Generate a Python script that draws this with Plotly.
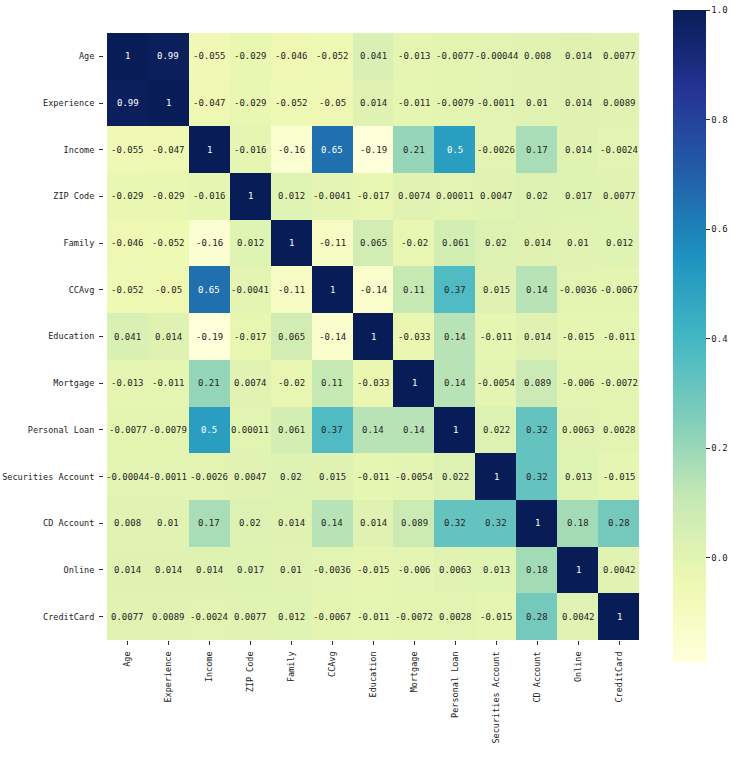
import plotly.graph_objects as go

labels = ["Age", "Experience", "Income", "ZIP Code", "Family", "CCAvg", "Education",
          "Mortgage", "Personal Loan", "Securities Account", "CD Account", "Online", "CreditCard"]

age = [1, 0.99, -0.055, -0.029, -0.046, -0.052, 0.041, -0.013, -0.0077, -0.00044, 0.008, 0.014, 0.0077]
experience = [0.99, 1, -0.047, -0.029, -0.052, -0.05, 0.014, -0.011, -0.0079, -0.0011, 0.01, 0.014, 0.0089]
income = [-0.055, -0.047, 1, -0.016, -0.16, 0.65, -0.19, 0.21, 0.5, -0.0026, 0.17, 0.014, -0.0024]
zip_code = [-0.029, -0.029, -0.016, 1, 0.012, -0.0041, -0.017, 0.0074, 0.00011, 0.0047, 0.02, 0.017, 0.0077]
family = [-0.046, -0.052, -0.16, 0.012, 1, -0.11, 0.065, -0.02, 0.061, 0.02, 0.014, 0.01, 0.012]
ccavg = [-0.052, -0.05, 0.65, -0.0041, -0.11, 1, -0.14, 0.11, 0.37, 0.015, 0.14, -0.0036, -0.0067]
education = [0.041, 0.014, -0.19, -0.017, 0.065, -0.14, 1, -0.033, 0.14, -0.011, 0.014, -0.015, -0.011]
mortgage = [-0.013, -0.011, 0.21, 0.0074, -0.02, 0.11, -0.033, 1, 0.14, -0.0054, 0.089, -0.006, -0.0072]
personal_loan = [-0.0077, -0.0079, 0.5, 0.00011, 0.061, 0.37, 0.14, 0.14, 1, 0.022, 0.32, 0.0063, 0.0028]
securities = [-0.00044, -0.0011, -0.0026, 0.0047, 0.02, 0.015, -0.011, -0.0054, 0.022, 1, 0.32, 0.013, -0.015]
cd_account = [0.008, 0.01, 0.17, 0.02, 0.014, 0.14, 0.014, 0.089, 0.32, 0.32, 1, 0.18, 0.28]
online = [0.014, 0.014, 0.014, 0.017, 0.01, -0.0036, -0.015, -0.006, 0.0063, 0.013, 0.18, 1, 0.0042]
creditcard = [0.0077, 0.0089, -0.0024, 0.0077, 0.012, -0.0067, -0.011, -0.0072, 0.0028, -0.015, 0.28, 0.0042, 1]

z = [age, experience, income, zip_code, family, ccavg, education,
     mortgage, personal_loan, securities, cd_account, online, creditcard]

ylgnbu = ["#ffffd9", "#edf8b1", "#c7e9b4", "#7fcdbb", "#41b6c4",
          "#1d91c0", "#225ea8", "#253494", "#081d58"]
cs = [[i / (len(ylgnbu) - 1), c] for i, c in enumerate(ylgnbu)]

zmin = min(min(r) for r in z)
zmax = 1.0

FONT = "DejaVu Sans Mono"
FS = 9
TFS = 8.5

fig = go.Figure(go.Heatmap(
    z=z, x=labels, y=labels, colorscale=cs, zmin=zmin, zmax=zmax,
    xgap=0, ygap=0,
    colorbar=dict(
        thickness=33, thicknessmode="pixels", len=652 / 607, lenmode="fraction",
        y=0.5008, yanchor="middle",
        x=(673 - 104) / 536, xanchor="left", xpad=0, ypad=0, outlinewidth=0,
        tickvals=[0.0, 0.2, 0.4, 0.6, 0.8, 1.0], ticktext=["0.0", "0.2", "0.4", "0.6", "0.8", "1.0"],
        ticks="outside", ticklen=4, tickcolor="#333",
        tickfont=dict(family=FONT, size=FS, color="#222"),
    ),
    hoverinfo="skip",
))

annotations = []
for i, row in enumerate(z):
    for j, v in enumerate(row):
        txt = format(v, ".2g")
        col = "white" if v >= 0.45 else "#262626"
        annotations.append(dict(x=labels[j], y=labels[i], text=txt, showarrow=False,
                                font=dict(family=FONT, size=FS, color=col)))

fig.update_layout(
    width=735, height=767,
    margin=dict(l=104, r=95, t=33, b=127, autoexpand=False),
    paper_bgcolor="white", plot_bgcolor="white",
    annotations=annotations,
    xaxis=dict(tickangle=-90, ticks="outside", ticklen=4, tickcolor="#333", automargin=False,
               ticklabelstandoff=3,
               tickfont=dict(family=FONT, size=TFS, color="#222"), showgrid=False, zeroline=False,
               showline=False),
    yaxis=dict(autorange="reversed", ticks="outside", ticklen=4, tickcolor="#333", automargin=False,
               ticklabelstandoff=3,
               tickfont=dict(family=FONT, size=TFS, color="#222"), showgrid=False, zeroline=False,
               showline=False),
)

fig.write_html("out.html", config={"displayModeBar": False},
               post_script="document.body.style.margin='0';")
